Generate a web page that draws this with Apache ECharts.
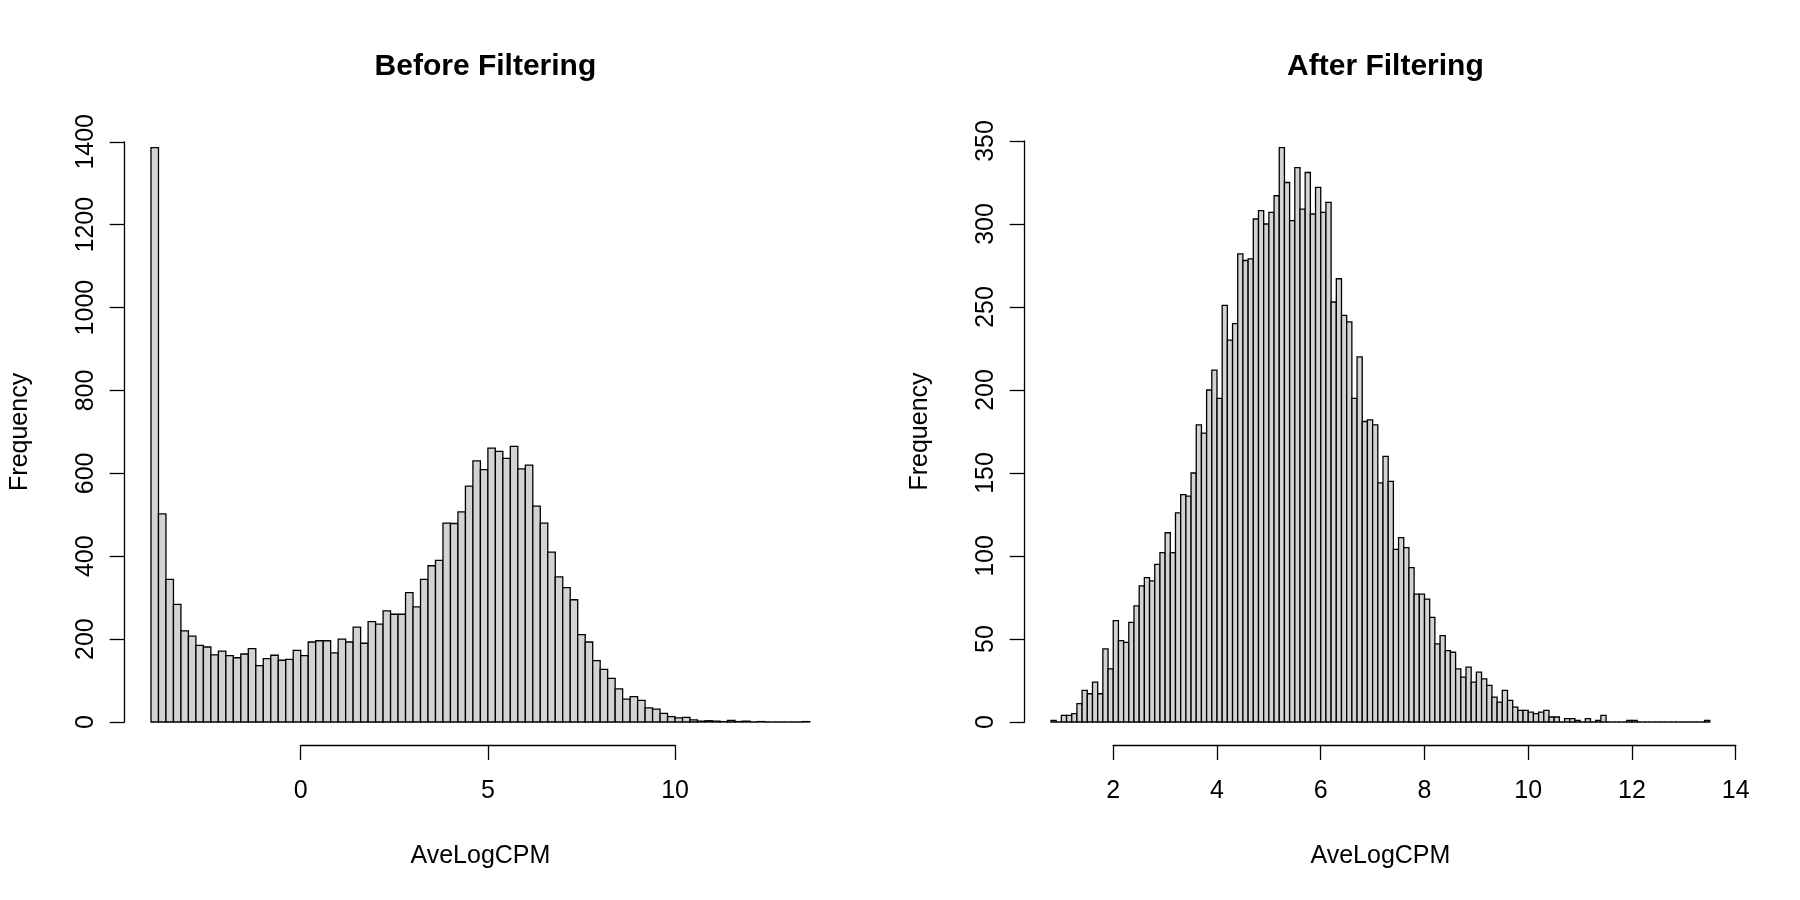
<!DOCTYPE html>
<html>
<head>
<meta charset="utf-8">
<script src="https://cdn.jsdelivr.net/npm/echarts@6/dist/echarts.min.js"></script>
<style>
  html, body { margin: 0; padding: 0; background: #fff; }
  #chart { width: 1800px; height: 900px; }
</style>
</head>
<body>
<div id="chart"></div>
<script>
// histogram bins: first break and bin width for each panel
var beforeStart = -4.0, beforeWidth = 0.2;
var afterStart = 0.8, afterWidth = 0.1;

// counts
var beforeCounts = [
	1386, 502, 344, 284, 220, 207, 185, 181, 162, 171,
	160, 155, 164, 177, 136, 153, 161, 149, 151, 173,
	160, 193, 196, 196, 167, 200, 193, 229, 190, 242,
	236, 268, 260, 260, 312, 278, 344, 377, 390, 480,
	479, 507, 569, 630, 609, 661, 653, 636, 665, 611,
	620, 521, 480, 410, 350, 324, 295, 211, 193, 148,
	127, 105, 80, 55, 61, 52, 34, 31, 21, 13,
	10, 11, 5, 2, 3, 2, 1, 4, 1, 2,
	0, 1, 0, 0, 0, 0, 0, 1
];
var afterCounts = [
	1, 0, 4, 4, 5, 11, 19, 17, 24, 17,
	44, 32, 61, 49, 48, 60, 70, 82, 87, 85,
	95, 102, 114, 102, 126, 137, 136, 150, 179, 174,
	200, 212, 195, 251, 230, 240, 282, 278, 279, 303,
	308, 300, 307, 317, 346, 325, 302, 334, 309, 331,
	306, 322, 307, 313, 253, 267, 245, 241, 195, 220,
	181, 182, 179, 144, 160, 145, 104, 111, 105, 93,
	77, 77, 74, 63, 47, 52, 43, 42, 32, 27,
	33, 24, 30, 26, 22, 15, 12, 19, 13, 9,
	7, 7, 6, 5, 6, 7, 3, 3, 0, 2,
	2, 1, 0, 2, 0, 1, 4, 0, 0, 0,
	0, 1, 1, 0, 0, 0, 0, 0, 0, 0,
	0, 0, 0, 0, 0, 0, 1
];

// tick labels
var beforeXTicks = [0, 5, 10];
var beforeYTicks = [0, 200, 400, 600, 800, 1000, 1200, 1400];
var afterXTicks = [2, 4, 6, 8, 10, 12, 14];
var afterYTicks = [0, 50, 100, 150, 200, 250, 300, 350];

var titles = ['Before Filtering', 'After Filtering'];
var xName = 'AveLogCPM';
var yName = 'Frequency';

// R style panel layout (mar = 5.1 4.1 4.1 2.1 lines)
var FONT = 'Liberation Sans, Arial, sans-serif';
var LINE = 30.4;
var PANEL_W = 900;
var plotL = 4.1 * LINE, plotR = PANEL_W - 2.1 * LINE;
var plotT = 4.1 * LINE, plotB = 900 - 5.1 * LINE;

function toBins(start, width, counts) {
	return counts.map(function (n, i) {
		var x0 = +(start + i * width).toFixed(4);
		var x1 = +(start + (i + 1) * width).toFixed(4);
		return [x0, x1, n];
	});
}

function renderBar(params, api) {
	var p0 = api.coord([api.value(0), api.value(2)]);
	var p1 = api.coord([api.value(1), 0]);
	return {
		type: 'rect',
		shape: { x: p0[0], y: p0[1], width: p1[0] - p0[0], height: p1[1] - p0[1] },
		style: { fill: '#d3d3d3', stroke: '#000', lineWidth: 1.3 }
	};
}

var option = {
	backgroundColor: '#fff',
	animation: false,
	title: [],
	grid: [],
	xAxis: [],
	yAxis: [],
	series: []
};

function addPanel(k, start, width, counts, xTicks, yTicks) {
	var off = k * PANEL_W;
	var bins = toBins(start, width, counts);
	var xmin = bins[0][0], xmax = bins[bins.length - 1][1];
	var xext = 0.04 * (xmax - xmin);
	var xlo = xmin - xext, xhi = xmax + xext;
	var ymax = Math.max.apply(null, counts);
	var ylo = -0.04 * ymax, yhi = ymax * 1.04;
	var px = function (v) { return off + plotL + (v - xlo) / (xhi - xlo) * (plotR - plotL); };
	var py = function (v) { return plotB - (v - ylo) / (yhi - ylo) * (plotB - plotT); };
	var yTop = yTicks[yTicks.length - 1];
	var yStep = yTicks[1] - yTicks[0];
	var xStep = xTicks[1] - xTicks[0];
	var g = option.grid.length;

	option.title.push({
		text: titles[k],
		left: off + (plotL + plotR) / 2,
		textAlign: 'center',
		top: 47,
		textStyle: { fontFamily: FONT, fontSize: 30, fontWeight: 'bold', color: '#000' }
	});

	// data grid: y axis spans exactly the tick range
	option.grid.push({
		left: off + plotL,
		width: plotR - plotL,
		top: py(yTop),
		height: py(0) - py(yTop)
	});
	option.xAxis.push({
		gridIndex: g, type: 'value', min: xlo, max: xhi,
		name: xName, nameLocation: 'middle', nameGap: 122,
		nameTextStyle: { fontFamily: FONT, fontSize: 25, color: '#000' },
		axisLine: { show: false, onZero: false }, axisTick: { show: false },
		axisLabel: { show: false }, splitLine: { show: false }
	});
	option.yAxis.push({
		gridIndex: g, type: 'value', min: 0, max: yTop, interval: yStep,
		name: yName, nameLocation: 'middle', nameGap: 92,
		nameTextStyle: { fontFamily: FONT, fontSize: 25, color: '#000' },
		axisLine: { show: true, onZero: false, lineStyle: { color: '#000', width: 1.3 } },
		axisTick: { show: true, length: 15, lineStyle: { color: '#000', width: 1.3 } },
		axisLabel: {
			rotate: 90, margin: 26, fontFamily: FONT, fontSize: 25, color: '#000',
			formatter: function (v) { return String(v); }
		},
		splitLine: { show: false }
	});
	option.series.push({
		type: 'custom',
		xAxisIndex: g, yAxisIndex: g,
		renderItem: renderBar,
		encode: { x: [0, 1], y: 2 },
		clip: false,
		data: bins
	});

	// x tick axis below the bars, from first to last tick
	option.grid.push({
		left: px(xTicks[0]),
		width: px(xTicks[xTicks.length - 1]) - px(xTicks[0]),
		top: plotB - 10,
		height: 10
	});
	option.xAxis.push({
		gridIndex: g + 1, type: 'value', position: 'bottom',
		min: xTicks[0], max: xTicks[xTicks.length - 1], interval: xStep,
		axisLine: { show: true, onZero: false, lineStyle: { color: '#000', width: 1.3 } },
		axisTick: { show: true, length: 15, lineStyle: { color: '#000', width: 1.3 } },
		axisLabel: { margin: 34, fontFamily: FONT, fontSize: 25, color: '#000' },
		splitLine: { show: false }
	});
	option.yAxis.push({
		gridIndex: g + 1, type: 'value', show: false, min: 0, max: 1
	});
}

addPanel(0, beforeStart, beforeWidth, beforeCounts, beforeXTicks, beforeYTicks);
addPanel(1, afterStart, afterWidth, afterCounts, afterXTicks, afterYTicks);

var chart = echarts.init(document.getElementById('chart'), null, { renderer: 'canvas' });
chart.setOption(option);
</script>
</body>
</html>
